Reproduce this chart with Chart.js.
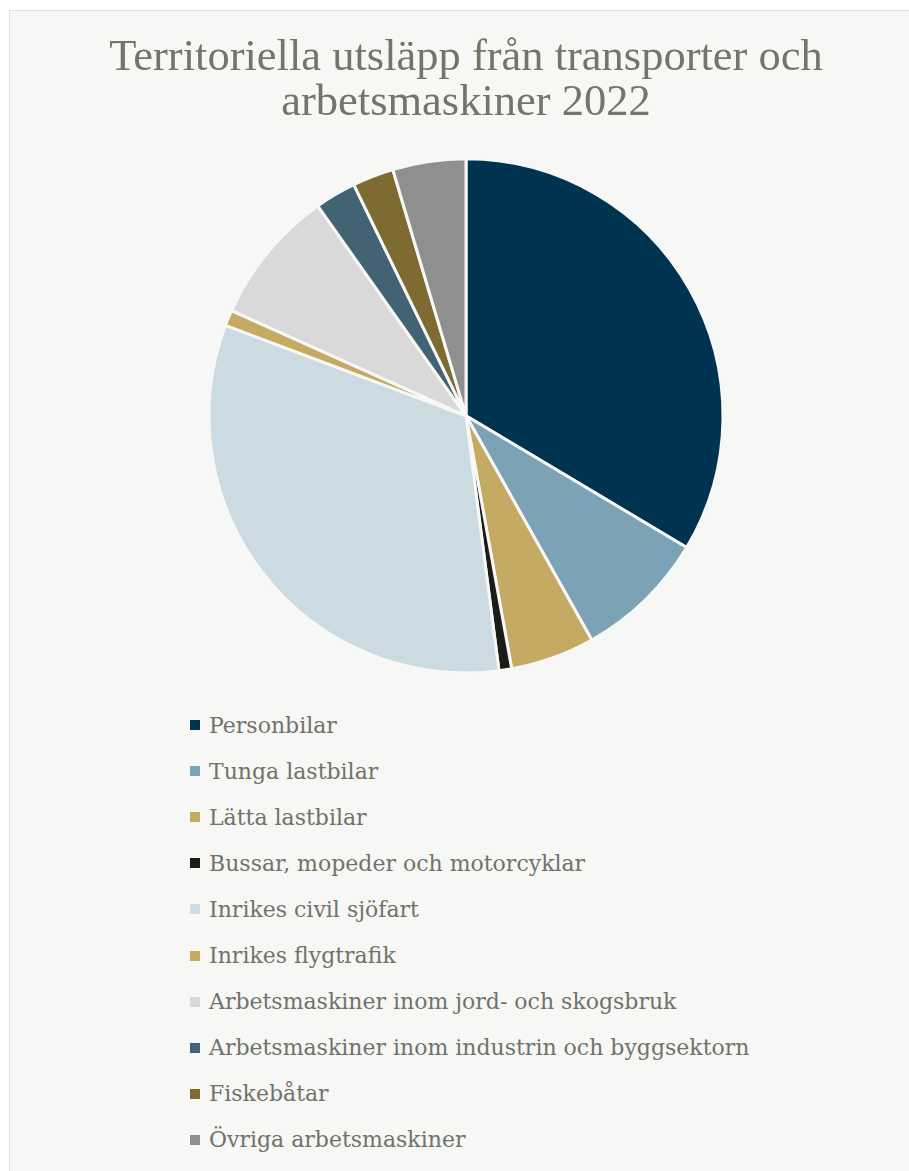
<!DOCTYPE html>
<html>
<head>
<meta charset="utf-8">
<script src="https://cdn.jsdelivr.net/npm/chart.js@4"></script>
<style>
  html, body { margin: 0; padding: 0; background: #ffffff; overflow: hidden; }
  #panel {
    position: absolute; left: 9px; top: 10px; width: 920px; height: 1200px;
    background: #f7f7f5; border: 1px solid #e0e0dc; box-sizing: border-box;
  }
  #chart-wrap { position: absolute; left: 0; top: 0; width: 912px; height: 690px; }
  #legend { position: absolute; left: 180px; top: 691px; margin: 0; padding: 0; list-style: none; }
  #legend li {
    display: flex; align-items: center; height: 46.1px;
    font-family: "DejaVu Serif", serif; font-size: 22px; color: #70736a;
  }
  #legend li span.box { width: 10px; height: 10px; margin-right: 9px; display: inline-block; }
</style>
</head>
<body>
<div id="panel">
  <div id="chart-wrap"><canvas id="pie"></canvas></div>
  <ul id="legend"></ul>
</div>
<script>
// Territoriella utsläpp, andel per kategori (%)
var categories = [
  "Personbilar",
  "Tunga lastbilar",
  "Lätta lastbilar",
  "Bussar, mopeder och motorcyklar",
  "Inrikes civil sjöfart",
  "Inrikes flygtrafik",
  "Arbetsmaskiner inom jord- och skogsbruk",
  "Arbetsmaskiner inom industrin och byggsektorn",
  "Fiskebåtar",
  "Övriga arbetsmaskiner"
];
var shares = [33.6, 8.3, 5.3, 0.8, 32.8, 1.0, 8.5, 2.6, 2.6, 4.6];
var colors = [
  "#003350", "#7ba3b5", "#c4aa62", "#1b1b18", "#ccdae2",
  "#c4aa62", "#d9d9d9", "#426374", "#7d6b32", "#8f8f8f"
];
var titleLines = ["Territoriella utsläpp från transporter och", "arbetsmaskiner 2022"];

// legend as a list, one item per row
var htmlLegend = {
  id: "htmlLegend",
  afterUpdate: function (chart) {
    var ul = document.getElementById("legend");
    ul.innerHTML = "";
    var items = chart.options.plugins.legend.labels.generateLabels(chart);
    items.forEach(function (item) {
      var li = document.createElement("li");
      var box = document.createElement("span");
      box.className = "box";
      box.style.background = item.fillStyle;
      li.appendChild(box);
      li.appendChild(document.createTextNode(item.text));
      ul.appendChild(li);
    });
  }
};

var ctx = document.getElementById("pie");
new Chart(ctx, {
  type: "pie",
  data: {
    labels: categories,
    datasets: [{
      data: shares,
      backgroundColor: colors,
      borderColor: "#f7f7f5",
      borderWidth: 3
    }]
  },
  options: {
    responsive: true,
    maintainAspectRatio: false,
    animation: false,
    radius: 257,
    layout: { padding: { bottom: 30 } },
    plugins: {
      legend: { display: false },
      tooltip: { enabled: false },
      title: {
        display: true,
        text: titleLines,
        color: "#72756a",
        font: { family: "Liberation Serif", size: 44.5, weight: "normal", lineHeight: 1.03 },
        padding: { top: 24, bottom: 34 }
      }
    }
  },
  plugins: [htmlLegend]
});
</script>
</body>
</html>
